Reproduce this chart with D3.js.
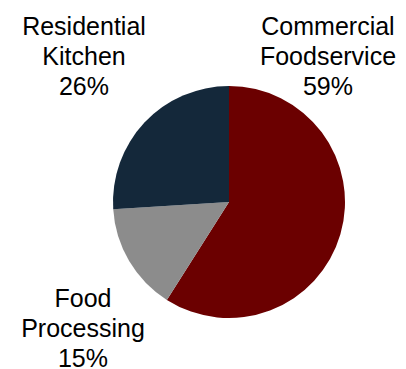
<!DOCTYPE html>
<html>
<head>
<meta charset="utf-8">
<script src="https://cdn.jsdelivr.net/npm/d3@7"></script>
<style>
  html, body { margin: 0; padding: 0; background: #fff; }
  svg { display: block; }
</style>
</head>
<body>
<svg id="chart" width="406" height="369"></svg>
<script>
// Segment shares, drawn clockwise from 12 o'clock
const categories = ["Commercial Foodservice", "Food Processing", "Residential Kitchen"];
const shares = [59, 15, 26];
const labelLines = [
  ["Commercial", "Foodservice", "59%"],
  ["Food", "Processing", "15%"],
  ["Residential", "Kitchen", "26%"]
];
const colors = ["#6b0000", "#8c8c8c", "#14283a"];

const svg = d3.select("#chart");
const cx = 229, cy = 202, radius = 116;

const pie = d3.pie().sort(null).value(d => d);
const arc = d3.arc().innerRadius(0).outerRadius(radius);
const color = d3.scaleOrdinal().domain(categories).range(colors);

const g = svg.append("g").attr("transform", `translate(${cx},${cy})`);
g.selectAll("path")
  .data(pie(shares))
  .join("path")
  .attr("d", arc)
  .attr("fill", (d, i) => color(categories[i]));

// Label block positions (centre x, first baseline)
const labelPos = [
  { x: 328, y: 35 },
  { x: 83, y: 307 },
  { x: 84, y: 35 }
];
const lineHeight = 30;

const labels = svg.append("g")
  .attr("font-family", "'Liberation Sans', Arial, sans-serif")
  .attr("font-size", 25)
  .attr("fill", "#000")
  .attr("text-anchor", "middle");

labelLines.forEach((lines, i) => {
  const t = labels.append("text")
    .attr("x", labelPos[i].x)
    .attr("y", labelPos[i].y);
  lines.forEach((line, j) => {
    t.append("tspan")
      .attr("x", labelPos[i].x)
      .attr("dy", j === 0 ? 0 : lineHeight)
      .text(line);
  });
});
</script>
</body>
</html>
